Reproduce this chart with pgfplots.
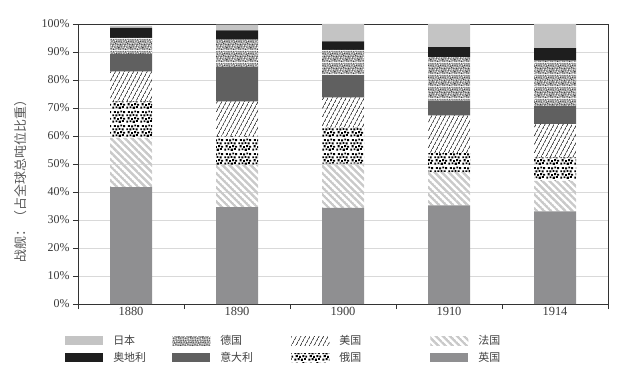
\documentclass[border=0pt]{standalone}
\usepackage{fontspec}
\setmainfont{Liberation Serif}
\newfontfamily\cjk{Noto Sans CJK SC}
\usepackage{pgfplots}
\pgfplotsset{compat=1.18}
\usepackage{pgfplotstable}
\usetikzlibrary{patterns,patterns.meta}

\definecolor{cJapan}{HTML}{C4C4C4}
\definecolor{cAustria}{HTML}{1E1E1E}
\definecolor{cItaly}{HTML}{606060}
\definecolor{cBritain}{HTML}{8F8F91}
\definecolor{cFrance}{HTML}{C9C9C9}
\definecolor{cGerBase}{HTML}{A8A8A8}
\definecolor{cGerDark}{HTML}{404040}
\definecolor{cGrid}{HTML}{D9D9D9}
\definecolor{cText}{HTML}{3A3A3A}

\tikzdeclarepattern{
  name=mylines,
  parameters={\pgfkeysvalueof{/pgf/pattern keys/size},\pgfkeysvalueof{/pgf/pattern keys/angle},\pgfkeysvalueof{/pgf/pattern keys/line width}},
  bounding box={(0,-0.5*\pgfkeysvalueof{/pgf/pattern keys/line width}) and (\pgfkeysvalueof{/pgf/pattern keys/size},0.5*\pgfkeysvalueof{/pgf/pattern keys/line width})},
  tile size={(\pgfkeysvalueof{/pgf/pattern keys/size},\pgfkeysvalueof{/pgf/pattern keys/size})},
  tile transformation={rotate=\pgfkeysvalueof{/pgf/pattern keys/angle}},
  defaults={size/.initial=5pt,angle/.initial=45,line width/.initial=.4pt},
  code={\draw[line width=\pgfkeysvalueof{/pgf/pattern keys/line width}] (0,0) -- (\pgfkeysvalueof{/pgf/pattern keys/size},0);},
}

\tikzdeclarepattern{
  name=rdots,
  type=uncolored,
  bounding box={(0,0) and (14bp,14bp)},
  tile size={(14bp,14bp)},
  code={
    \foreach \a/\b/\s in {0.3/0.4/2.1, 3.9/1.0/1.9, 7.2/0.2/2.2, 10.6/1.1/2.0,
                          1.8/3.9/2.2, 5.4/3.3/1.9, 8.8/4.1/2.1, 11.9/3.5/2.0,
                          0.4/7.2/2.0, 3.6/6.9/2.2, 7.0/7.6/1.9, 10.3/7.0/2.1,
                          2.1/10.7/2.0, 5.5/10.2/2.2, 8.9/11.3/1.9, 11.8/10.5/2.1}
      {\fill (\a bp,\b bp) rectangle +(\s bp,\s bp);}
  }
}

\tikzdeclarepattern{
  name=gspeck,
  type=colored,
  bounding box={(0,0) and (12bp,12bp)},
  tile size={(12bp,12bp)},
  code={
    \fill[cGerBase] (0,0) rectangle (12bp,12bp);
    \foreach \a/\b in {0.3/0.5,2.8/1.1,5.6/0.2,8.1/1.4,10.6/0.7,1.4/2.9,4.2/3.6,6.9/2.6,9.5/3.3,11.0/2.4,
                       0.2/5.2,2.6/6.1,5.1/5.4,7.8/6.3,10.2/5.6,1.1/8.0,3.9/8.6,6.4/7.9,8.9/8.8,11.0/8.2,
                       0.6/10.6,3.0/10.9,5.6/10.3,8.2/11.0,10.1/10.4}
      {\fill[cGerDark] (\a bp,\b bp) rectangle +(1bp,1bp);}
    \foreach \a/\b in {1.6/0.4,4.1/0.8,6.9/1.0,9.4/0.2,0.3/1.9,2.6/2.6,5.5/2.3,8.2/2.8,10.6/3.9,3.1/4.4,
                       6.1/4.3,8.8/4.6,1.5/6.6,4.0/6.9,6.5/6.2,9.1/7.0,11.0/6.8,2.3/9.0,5.1/8.8,7.6/9.6,
                       10.2/9.3,1.7/11.0,4.3/11.0,6.8/11.0,9.3/11.0}
      {\fill[white] (\a bp,\b bp) rectangle +(1bp,1bp);}
  }
}

\pgfplotstableread{
x GB FR RU US IT DE AT JP
0 41.7 17.6 13.1 10.7 6.2 5.7 3.6 0.7
1 34.6 15.2 10.1 12.5 12.2 9.8 3.3 2.1
2 34.3 15.8 13.0 10.7 7.9 9.1 3.0 6.2
3 35.2 11.9 6.8 13.5 5.2 15.6 3.5 8.3
4 33.1 10.9 8.4 11.9 6.5 16.1 4.5 8.6
}\data

\begin{document}
\begin{tikzpicture}
\begin{axis}[
  scale only axis, width=530bp, height=280bp,
  ybar stacked, bar width=42bp,
  xmin=-0.5, xmax=4.5, ymin=0, ymax=100,
  xtick={-0.5,0.5,...,4.5}, xticklabels={},
  extra x ticks={0,1,2,3,4},
  extra x tick labels={1880,1890,1900,1910,1914},
  extra x tick style={major tick length=0pt, grid=none},
  ytick={0,10,...,100},
  yticklabels={0\%,10\%,20\%,30\%,40\%,50\%,60\%,70\%,80\%,90\%,100\%},
  tick pos=left, tick align=outside, major tick length=5bp,
  ymajorgrids, grid style={cGrid, line width=0.6bp},
  axis line style={black!80, line width=0.8bp},
  tick style={black!80, line width=0.8bp},
  ticklabel style={text=cText},
  xticklabel style={font=\fontsize{12.5}{14}\selectfont},
  yticklabel style={font=\fontsize{12}{14}\selectfont},
  ylabel={\cjk 战舰：（占全球总吨位比重）},
  ylabel style={font=\fontsize{13}{15}\selectfont, text=black!65, at={(axis description cs:-0.108,0.45)}, anchor=center},
  legend columns=4,
  legend style={at={(axis description cs:-0.030,-0.105)}, anchor=north west, draw=none, fill=none,
    font=\cjk\fontsize{11}{13}\selectfont, text=black!75,
    nodes={inner sep=0pt, anchor=west}, row sep=6bp, column sep=0pt},
  legend image code/.code={\path[#1, draw=none] (0bp,-4.5bp) rectangle (38bp,4.5bp); \path[draw=none, fill=none] (0bp,0bp) -- (48bp,0bp);},
]
\addplot[forget plot, draw=none, fill=cBritain] table[x=x,y=GB] \data;
\addplot[forget plot, draw=none, pattern={mylines[size=5bp,angle=-45,line width=2.4bp]}, pattern color=cFrance] table[x=x,y=FR] \data;
\addplot[forget plot, draw=none, pattern=rdots, pattern color=black] table[x=x,y=RU] \data;
\addplot[forget plot, draw=none, pattern={mylines[size=4bp,angle=62,line width=0.6bp]}, pattern color=black!85] table[x=x,y=US] \data;
\addplot[forget plot, draw=none, fill=cItaly] table[x=x,y=IT] \data;
\addplot[forget plot, draw=none, pattern=gspeck] table[x=x,y=DE] \data;
\addplot[forget plot, draw=none, fill=cAustria] table[x=x,y=AT] \data;
\addplot[forget plot, draw=none, fill=cJapan] table[x=x,y=JP] \data;

\addlegendimage{fill=cJapan}
\addlegendentry{\makebox[59bp][l]{日本}}
\addlegendimage{pattern=gspeck}
\addlegendentry{\makebox[71bp][l]{德国}}
\addlegendimage{pattern={mylines[size=4bp,angle=62,line width=0.6bp]}, pattern color=black!85}
\addlegendentry{\makebox[91bp][l]{美国}}
\addlegendimage{pattern={mylines[size=5bp,angle=-45,line width=2.4bp]}, pattern color=cFrance}
\addlegendentry{\makebox[40bp][l]{法国}}
\addlegendimage{fill=cAustria}
\addlegendentry{\makebox[59bp][l]{奥地利}}
\addlegendimage{fill=cItaly}
\addlegendentry{\makebox[71bp][l]{意大利}}
\addlegendimage{pattern=rdots, pattern color=black}
\addlegendentry{\makebox[91bp][l]{俄国}}
\addlegendimage{fill=cBritain}
\addlegendentry{\makebox[40bp][l]{英国}}
\end{axis}
\pgfresetboundingbox
\path ([shift={(-78bp,-70bp)}]current axis.south west) rectangle ([shift={(20bp,24bp)}]current axis.north east);
\end{tikzpicture}
\end{document}
